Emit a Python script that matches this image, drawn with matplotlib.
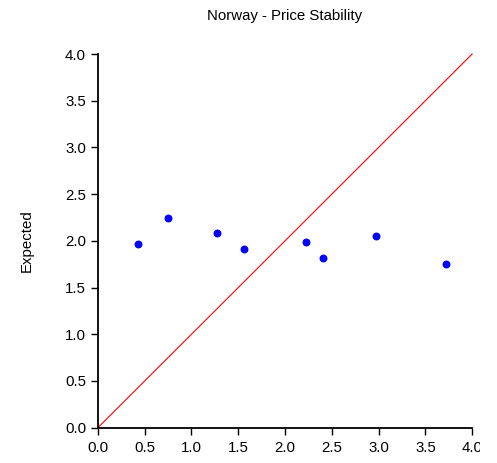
import matplotlib
matplotlib.use("Agg")
import matplotlib.pyplot as plt
from matplotlib.ticker import MultipleLocator
from matplotlib.transforms import Bbox

# Actual vs expected price stability scores
actual = [0.43, 0.75, 1.27, 1.56, 2.22, 2.41, 2.97, 3.72]
expected = [1.97, 2.24, 2.08, 1.91, 1.99, 1.82, 2.05, 1.75]
diag = [0.0, 4.0]

plt.rcParams['font.family'] = ['Liberation Sans', 'DejaVu Sans']
fs = 10.8

fig = plt.figure(figsize=(4.97, 4.63), dpi=100)
ax = fig.add_axes([0.197, 0.0763, 0.753, 0.807])

ax.plot(diag, diag, color='#ff0000', linewidth=0.8, clip_on=False)
ax.scatter(actual, expected, s=22, color='#0000ff', zorder=3, clip_on=False)

ax.set_xlim(0, 4)
ax.set_ylim(0, 4)
ax.xaxis.set_major_locator(MultipleLocator(0.5))
ax.yaxis.set_major_locator(MultipleLocator(0.5))
ax.xaxis.set_major_formatter(lambda x, pos: f'{x:.1f}')
ax.yaxis.set_major_formatter(lambda x, pos: f'{x:.1f}')
ax.tick_params(direction='out', length=5, width=1, labelsize=fs)
ax.tick_params(axis='x', pad=4.5)
ax.tick_params(axis='y', pad=3.5)

for side in ['top', 'right']:
    ax.spines[side].set_visible(False)
for side in ['left', 'bottom']:
    ax.spines[side].set_linewidth(1.3)

fig.text(27 / 497, 1 - 240.5 / 463, 'Expected', rotation=90,
         ha='center', va='center', fontsize=fs)
fig.text(0.573, 0.966, 'Norway - Price Stability', ha='center', va='center', fontsize=fs)

# the last x label runs off the drawing area and gets cut
fig.canvas.draw()
cut = Bbox([[0, 0], [480, 463]])
for lbl in ax.get_xticklabels():
    lbl.set_clip_box(cut)
    lbl.set_clip_on(True)

fig.savefig('out.png', dpi=100)
